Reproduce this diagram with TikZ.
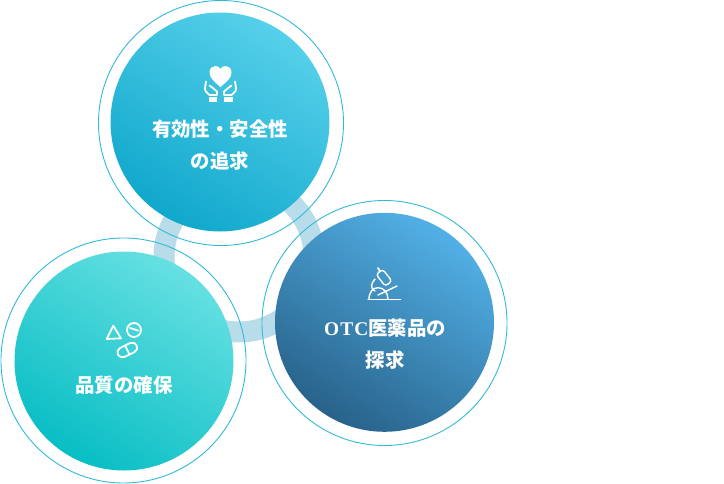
\documentclass[tikz,border=0pt]{standalone}
\usepackage{fontspec}
\setmainfont{Liberation Serif}
\newfontfamily\cjk{Noto Sans CJK JP}
\definecolor{ringc}{HTML}{30BADA}
\definecolor{bandc}{HTML}{B9DCEA}
\definecolor{aHi}{HTML}{56D0EA}
\definecolor{aLo}{HTML}{10A8CC}
\definecolor{bHi}{HTML}{52B0E6}
\definecolor{bLo}{HTML}{28628A}
\definecolor{cHi}{HTML}{66E0E2}
\definecolor{cLo}{HTML}{08BEC4}
\tikzset{
  x=1pt,y=-1pt,
  disc/.style n args={2}{circle,minimum size=219pt,inner sep=0pt,shading=axis,top color=#1,bottom color=#2,shading angle=-32},
  halo/.style={draw=ringc,line width=0.9pt,circle,minimum size=245pt,inner sep=0pt},
  lab/.style={text=white,font=\fontsize{19.4}{22}\selectfont\bfseries\cjk,inner sep=0pt},
  ico/.style={draw=white,line width=1.8pt,line cap=round,line join=round},
}
\begin{document}
\begin{tikzpicture}
\useasboundingbox (0,0) rectangle (724,483);
\draw[bandc,line width=21pt] (239,257) circle[radius=75];
% discs and thin rings
\node[disc={aHi}{aLo}] (topd) at (220,122) {};
\node[disc={bHi}{bLo}] (rightd) at (384.5,322.3) {};
\node[disc={cHi}{cLo}] (leftd) at (124,361) {};
\node[halo] (topr) at (221,123) {};
\node[halo] (rightr) at (384.5,323) {};
\node[halo] (leftr) at (123.5,360.5) {};
% labels
\node[lab] (t1) at (220,129) {有効性・安全性};
\node[lab] (t2) at (220,161) {の追求};
\node[lab] (r1) at (385,328) {{\rmfamily\addfontfeature{LetterSpace=6}OTC}医薬品の};
\node[lab] (r2) at (385,360) {探求};
\node[lab] (l1) at (124,385) {品質の確保};
% heart icon
\fill[white] (220.5,87) .. controls (215,82) and (209.5,78.5) .. (209.5,72.5)
  .. controls (209.5,68) and (212.5,66) .. (215.5,66)
  .. controls (217.5,66) and (219.5,67) .. (220.5,69)
  .. controls (221.5,67) and (223.5,66) .. (225.5,66)
  .. controls (228.5,66) and (231.5,68) .. (231.5,72.5)
  .. controls (231.5,78.5) and (226,82) .. (220.5,87) -- cycle;
\foreach \m/\o in {1/0,-1/441}{
 \begin{scope}[shift={(\o,0)},xscale=\m]
  \draw[ico] (206,81.5) -- (205,88) .. controls (204.5,90) and (205,91) .. (209.5,95) -- (217,95) -- (217,91.5) .. controls (215,89) and (212,88) .. (209.5,85.5);
  \fill[white] (208.5,97) rectangle (217,102);
 \end{scope}}
% microscope icon
\draw[ico,line width=1.4pt] (368,299.5) -- (400.5,299.5);
\draw[ico,line width=1.4pt] (369,299.5) .. controls (369,292) and (373,287.7) .. (378,287.7) .. controls (384,287.7) and (388,292.5) .. (388,299.5);
\draw[ico,line width=1.4pt] (378,295) -- (397,286);
\begin{scope}[shift={(384,277.7)},rotate=-52]
 \draw[ico,line width=1.4pt,rounded corners=3pt] (-7.5,-4.2) rectangle (7.5,4.2);
\end{scope}
\draw[ico,line width=1.8pt] (378,268) -- (380.2,271.5);
\draw[ico,line width=1.4pt] (375,279) .. controls (371.5,283) and (369.5,288) .. (375,291);
% pills icon
\draw[ico] (113.3,325.7) -- (106.7,339) -- (121,338.3) -- cycle;
\draw[ico] (134,330) circle[radius=7];
\draw[ico] (130,328) -- (138,330.5);
\begin{scope}[shift={(127.3,350)},rotate=26]
 \draw[ico] (-5.5,-5) -- (5.5,-5) arc[start angle=-90,end angle=90,radius=5] -- (-5.5,5) arc[start angle=90,end angle=270,radius=5] -- cycle;
 \draw[ico] (0,-5) -- (0,5);
\end{scope}
\end{tikzpicture}
\end{document}
